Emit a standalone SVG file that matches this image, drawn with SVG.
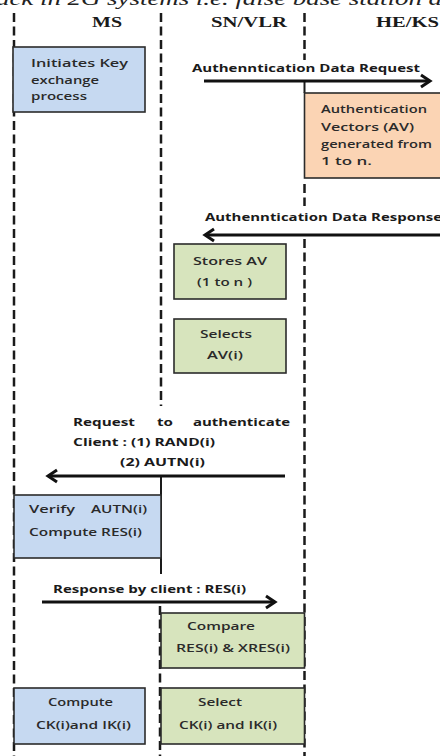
<svg xmlns="http://www.w3.org/2000/svg" width="440" height="756" viewBox="0 0 440 756">
<style>
.life{stroke:#1a1a1a;stroke-width:2.5;stroke-dasharray:9 4.5;fill:none}
.solid{stroke:#1a1a1a;stroke-width:2;fill:none}
.box{stroke:#2b2b2b;stroke-width:1.6}
.blue{fill:#c6d9f1}
.green{fill:#d7e4bd}
.orange{fill:#fbd4b4}
.t{font-family:"Open Sans","Liberation Sans",sans-serif;font-size:11.5px;font-weight:600;fill:#2a2a2a}
.b{font-family:"Open Sans","Liberation Sans",sans-serif;font-size:11px;font-weight:bold;fill:#1a1a1a}
.h{font-family:"Liberation Serif","DejaVu Serif",serif;font-size:15px;font-weight:bold;fill:#1a1a1a}
.arrow{stroke:#111;stroke-width:3.2;fill:none;marker-end:url(#head)}
</style>
<defs>
<marker id="head" markerUnits="userSpaceOnUse" markerWidth="16" markerHeight="16" refX="12" refY="8" orient="auto">
<path d="M3,2 L12,8 L3,14" fill="none" stroke="#111" stroke-width="3"/>
</marker>
</defs>
<rect width="440" height="756" fill="#fff"/>
<text x="-4" y="5" font-family="Liberation Serif,serif" font-style="italic" font-size="19" fill="#222" textLength="446" lengthAdjust="spacingAndGlyphs">ack in 2G systems i.e. false base station a</text>
<g id="headers">
<text class="h" x="92" y="27" textLength="30" lengthAdjust="spacingAndGlyphs">MS</text>
<text class="h" x="211" y="27" textLength="76" lengthAdjust="spacingAndGlyphs">SN/VLR</text>
<text class="h" x="376" y="27" textLength="63" lengthAdjust="spacingAndGlyphs">HE/KS</text>
</g>
<g id="lifelines">
<line class="life" x1="14" y1="13" x2="14" y2="756"/>
<line class="life" x1="161" y1="13" x2="161" y2="406"/>
<line class="solid" x1="161" y1="476" x2="161" y2="574"/>
<line class="life" x1="160" y1="606" x2="160" y2="756"/>
<line class="life" x1="304.5" y1="13" x2="304.5" y2="60"/>
<line class="solid" x1="304.5" y1="81" x2="304.5" y2="93"/>
<line class="life" x1="304.5" y1="184" x2="304.5" y2="206"/>
<line class="life" x1="304.5" y1="239" x2="304.5" y2="756"/>
</g>
<g id="n_ms_init">
<rect class="box blue" x="13" y="47" width="132" height="65"/>
<text class="t" x="31" y="67" textLength="97" lengthAdjust="spacingAndGlyphs">Initiates Key</text>
<text class="t" x="31" y="83.5" textLength="68" lengthAdjust="spacingAndGlyphs">exchange</text>
<text class="t" x="31" y="100" textLength="56" lengthAdjust="spacingAndGlyphs">process</text>
</g>
<g id="n_av_gen">
<rect class="box orange" x="304.5" y="93" width="145" height="85"/>
<text class="t" x="321" y="113" textLength="106" lengthAdjust="spacingAndGlyphs">Authentication</text>
<text class="t" x="321" y="130.5" textLength="93" lengthAdjust="spacingAndGlyphs">Vectors (AV)</text>
<text class="t" x="321" y="147.5" textLength="111" lengthAdjust="spacingAndGlyphs">generated from</text>
<text class="t" x="321" y="164.5" textLength="51" lengthAdjust="spacingAndGlyphs">1 to n.</text>
</g>
<g id="n_store">
<rect class="box green" x="174" y="244" width="112" height="55"/>
<text class="t" x="193" y="265" textLength="74" lengthAdjust="spacingAndGlyphs">Stores AV</text>
<text class="t" x="197" y="286" textLength="55" lengthAdjust="spacingAndGlyphs">(1 to n )</text>
</g>
<g id="n_select_av">
<rect class="box green" x="174" y="319" width="112" height="54"/>
<text class="t" x="200" y="338" textLength="52" lengthAdjust="spacingAndGlyphs">Selects</text>
<text class="t" x="207" y="359" textLength="36" lengthAdjust="spacingAndGlyphs">AV(i)</text>
</g>
<g id="n_verify">
<rect class="box blue" x="14" y="495" width="147" height="63"/>
<text class="t" x="29" y="513"><tspan textLength="46" lengthAdjust="spacingAndGlyphs">Verify</tspan><tspan x="91" textLength="56" lengthAdjust="spacingAndGlyphs">AUTN(i)</tspan></text>
<text class="t" x="29" y="536" textLength="113" lengthAdjust="spacingAndGlyphs">Compute RES(i)</text>
</g>
<g id="n_compare">
<rect class="box green" x="161" y="613" width="143.5" height="55"/>
<text class="t" x="187" y="630" textLength="68" lengthAdjust="spacingAndGlyphs">Compare</text>
<text class="t" x="176" y="652" textLength="114" lengthAdjust="spacingAndGlyphs">RES(i) &amp; XRES(i)</text>
</g>
<g id="n_ms_compute">
<rect class="box blue" x="14" y="688" width="131" height="56"/>
<text class="t" x="48" y="706" textLength="65" lengthAdjust="spacingAndGlyphs">Compute</text>
<text class="t" x="36" y="729" textLength="95" lengthAdjust="spacingAndGlyphs">CK(i)and IK(i)</text>
</g>
<g id="n_sn_select">
<rect class="box green" x="161" y="688" width="143.5" height="56"/>
<text class="t" x="198" y="706" textLength="44" lengthAdjust="spacingAndGlyphs">Select</text>
<text class="t" x="179" y="729" textLength="98" lengthAdjust="spacingAndGlyphs">CK(i) and IK(i)</text>
</g>
<g id="connectors">
<line class="arrow" x1="204" y1="81" x2="430" y2="81"/>
<text class="b" x="192" y="71.5" textLength="228" lengthAdjust="spacingAndGlyphs">Authenntication Data Request</text>
<line class="arrow" x1="445" y1="235" x2="205" y2="235"/>
<text class="b" x="205" y="221" textLength="237" lengthAdjust="spacingAndGlyphs">Authenntication Data Response</text>
<text class="b" y="425.5"><tspan x="73" textLength="62" lengthAdjust="spacingAndGlyphs">Request</tspan><tspan x="157" textLength="16" lengthAdjust="spacingAndGlyphs">to</tspan><tspan x="193" textLength="97" lengthAdjust="spacingAndGlyphs">authenticate</tspan></text>
<text class="b" x="73" y="445.5" textLength="142" lengthAdjust="spacingAndGlyphs">Client : (1) RAND(i)</text>
<text class="b" x="120" y="465.5" textLength="85" lengthAdjust="spacingAndGlyphs">(2) AUTN(i)</text>
<line class="arrow" x1="285" y1="476" x2="48" y2="476"/>
<text class="b" x="53" y="593" textLength="193" lengthAdjust="spacingAndGlyphs">Response by client : RES(i)</text>
<line class="arrow" x1="42" y1="602" x2="275" y2="602"/>
</g>
</svg>
